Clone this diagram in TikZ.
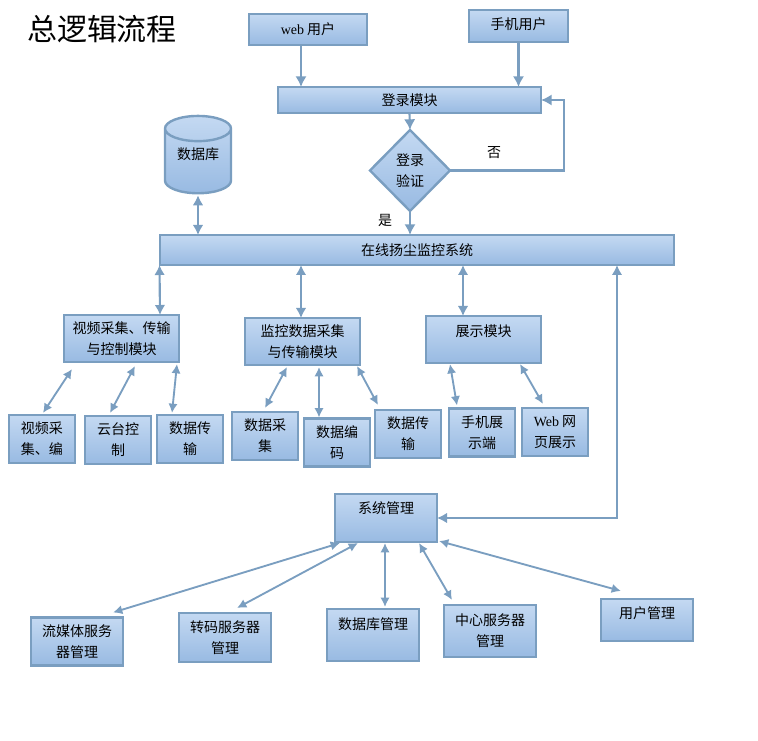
\documentclass[tikz,border=0pt]{standalone}
\usepackage{fontspec}
\setmainfont{Liberation Serif}
\newfontfamily\cjk{Noto Sans CJK SC}
\usetikzlibrary{shapes.geometric}
\usetikzlibrary{arrows.meta}
\definecolor{boxtop}{RGB}{196,217,242}
\definecolor{boxbottom}{RGB}{152,186,226}
\definecolor{edgeblue}{RGB}{122,158,192}
\begin{document}
\begin{tikzpicture}[x=0.75pt,y=-0.75pt,
      boxsize/.style 2 args={minimum width=#1*0.75pt,minimum height=#2*0.75pt},
      box/.style={rectangle,draw=edgeblue,line width=1.8pt,top color=boxtop,bottom color=boxbottom,
        inner sep=0pt,outer sep=0pt,align=center,font=\cjk\fontsize{10.5}{15.75}\selectfont},
      leaf/.style={box,boxsize={66}{48}},
      mgmt/.style={box,boxsize={92}{48}},
      module/.style={box,boxsize={115}{47}},
      raised/.style={text depth=#1},
      tag/.style={font=\cjk\fontsize{10.5}{15.75}\selectfont,inner sep=0pt},
      link/.style={draw=edgeblue,line width=1.6pt,-{Latex[length=8pt,width=8.5pt]}},
      bothmain/.style={draw=edgeblue,line width=1.6pt,{Latex[length=7.5pt,width=8pt]}-{Latex[length=7.5pt,width=8pt]}},
      both/.style={draw=edgeblue,line width=1.4pt,{Latex[length=7pt,width=7pt]}-{Latex[length=7pt,width=7pt]}}]
\useasboundingbox (0,0) rectangle (758,741);
\node (title) [tag,font=\cjk\fontsize{22.5}{27}\selectfont] at (102,29) {总逻辑流程};
% top row
\node (webuser) [box,boxsize={118}{31}] at (308,29.5) {{\rmfamily web} 用户};
\node (phoneuser) [box,boxsize={99}{32},raised=3pt] at (518.5,26) {手机用户};
\node (login) [box,boxsize={263}{26}] at (409.5,100) {登录模块};
\node (check) [box,diamond,boxsize={80}{81},aspect=1] at (410,170.5) {登录\\验证};
\node (db) [cylinder,shape border rotate=90,aspect=0.6,draw=edgeblue,line width=1.8pt,
  top color=boxtop,bottom color=boxbottom,minimum width=49.5pt,minimum height=58pt,
  inner sep=0pt,outer sep=0pt,text depth=12pt,font=\cjk\fontsize{10.5}{15.75}\selectfont] at (198,161.5) {数据库};
\node (no) [tag] at (494,153) {否};
\node (yes) [tag] at (385,220) {是};
\node (system) [box,boxsize={514}{30}] at (417,250) {在线扬尘监控系统};
% modules
\node (video) [module] at (121.5,338.5) {视频采集、传输\\与控制模块};
\node (monitor) [module] at (302.5,341.5) {监控数据采集\\与传输模块};
\node (show) [module,raised=14pt] at (483.5,339.5) {展示模块};
% leaves
\node (vcap) [leaf] at (42,439) {视频采\\集、编};
\node (ptz) [leaf] at (118,440) {云台控\\制};
\node (vtrans) [leaf] at (190,439) {数据传\\输};
\node (dcap) [leaf] at (265,436) {数据采\\集};
\node (dcode) [leaf] at (337,442.5) {数据编\\码};
\node (dtrans) [leaf] at (408,434) {数据传\\输};
\node (phoneshow) [leaf] at (482,432.5) {手机展\\示端};
\node (webshow) [leaf] at (555,432) {{\rmfamily Web} 网\\页展示};
% management
\node (admin) [box,boxsize={102}{48},raised=15pt] at (386,518) {系统管理};
\node (stream) [mgmt] at (77,641.5) {流媒体服务\\器管理};
\node (transcode) [mgmt,boxsize={92}{49}] at (225,637.5) {转码服务器\\管理};
\node (dbadmin) [mgmt,boxsize={92}{52},raised=17pt] at (373,635) {数据库管理};
\node (center) [mgmt,boxsize={92}{52}] at (490,631) {中心服务器\\管理};
\node (user) [mgmt,boxsize={92}{42},raised=11pt] at (647,620) {用户管理};
\draw[link] ([xshift=-5.25pt]webuser.south) -- ([xshift=-5.25pt]webuser.south |- login.north);
\draw[link] (phoneuser.south) -- (phoneuser.south |- login.north);
\draw[link] (login.south) -- (check.north);
\draw[link] (check.south) -- (check.south |- system.north);
\draw[link] (check.east) -| ([xshift=17pt]login.east) -- (login.east);
\draw[bothmain] ([yshift=-1.5pt]db.south) -- (db.south |- system.north);
\foreach \up/\upx/\low/\lowx in {system/-257.5/video/38.5,system/-116/monitor/-1.5,system/46/show/-20.5}
  \draw[bothmain] ([xshift=\upx*0.75pt]\up.south) -- ([xshift=\lowx*0.75pt]\low.north);
\draw[bothmain] ([xshift=150pt]system.south) |- (admin.east);
\foreach \up/\ux/\uy/\low/\lx/\ly in {
    video/-49.5/7/vcap/1/-2, video/13.5/4/ptz/-8/-3, video/55.5/2/vtrans/-18/-2,
    monitor/-15.5/2/dcap/0/-4, monitor/16.5/2/dcode/-18/-1, monitor/54.5/1/dtrans/-30/-5,
    show/-33.5/1/phoneshow/-25/-3, show/36.5/1/webshow/-12/-4,
    admin/-46/1/stream/36/-5, admin/-28/1/transcode/12/-5, admin/-1/1/dbadmin/12/-2,
    admin/33/1/center/-38/-5, admin/53/-1/user/-26/-8}
  \draw[both] ([shift={(\ux,\uy)}]\up.south) -- ([shift={(\lx,\ly)}]\low.north);
\end{tikzpicture}
\end{document}
